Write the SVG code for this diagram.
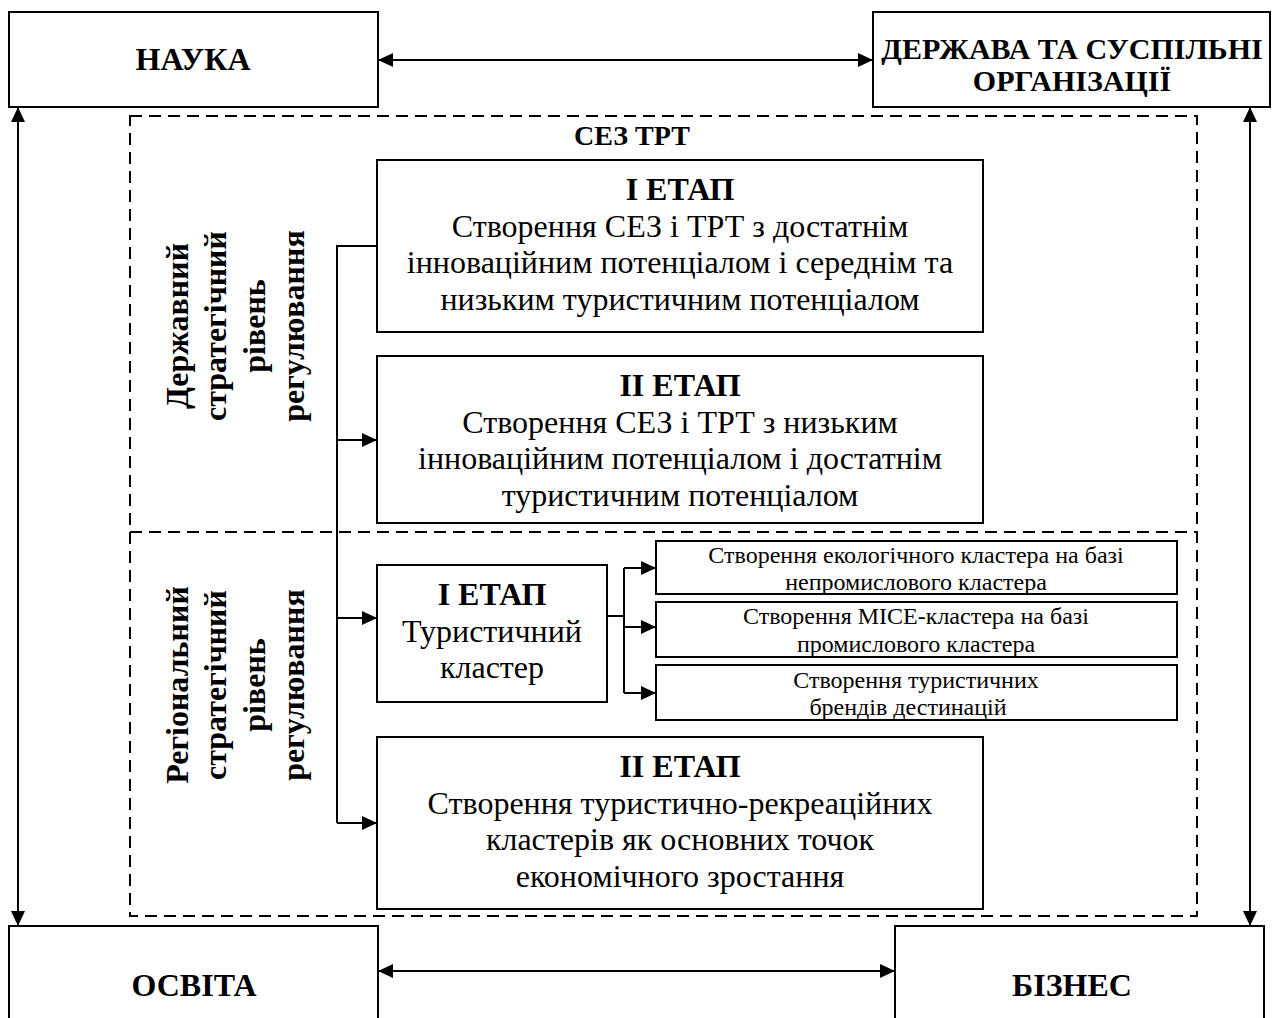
<svg xmlns="http://www.w3.org/2000/svg" width="1272" height="1018" viewBox="0 0 1272 1018">
<style>
.box{fill:#fff;stroke:#000;stroke-width:2}
.dash{fill:none;stroke:#000;stroke-width:2;stroke-dasharray:12 7}
.ln{fill:none;stroke:#000;stroke-width:2}
.ar{marker-end:url(#ah)}
.ar2{marker-start:url(#ah);marker-end:url(#ah)}
text{font-family:"Liberation Serif","Times New Roman",serif;fill:#000;text-anchor:middle}
.b{font-weight:bold}
.h32{font-size:32px}
.h30{font-size:30px}
.h28{font-size:28px}
.m{font-size:32px}
.s{font-size:24px}
</style>
<defs>
<marker id="ah" markerUnits="userSpaceOnUse" markerWidth="15" markerHeight="14" refX="15" refY="7" orient="auto-start-reverse">
<path d="M0,0 L15,7 L0,14 z" fill="#000"/>
</marker>
</defs>
<rect width="1272" height="1018" fill="#fff"/>

<g id="frame">
<rect class="dash" x="130" y="116" width="1067" height="800"/>
<line class="dash" x1="130" y1="532" x2="1197" y2="532"/>
<text class="b h28" x="632" y="145">СЕЗ ТРТ</text>
</g>

<g id="connectors">
<line class="ln ar2" x1="378" y1="60" x2="873" y2="60"/>
<line class="ln ar2" x1="378" y1="971" x2="895" y2="971"/>
<line class="ln ar2" x1="18" y1="107" x2="18" y2="926"/>
<line class="ln ar2" x1="1250" y1="107" x2="1250" y2="926"/>
<polyline class="ln" points="377,246 337,246 337,823"/>
<line class="ln ar" x1="337" y1="440" x2="377" y2="440"/>
<line class="ln ar" x1="337" y1="618" x2="377" y2="618"/>
<line class="ln ar" x1="337" y1="823" x2="377" y2="823"/>
<polyline class="ln" points="607,616 624,616"/>
<line class="ln" x1="624" y1="568" x2="624" y2="693"/>
<line class="ln ar" x1="624" y1="568" x2="656" y2="568"/>
<line class="ln ar" x1="624" y1="627" x2="656" y2="627"/>
<line class="ln ar" x1="624" y1="693" x2="656" y2="693"/>
</g>

<g id="nauka">
<rect class="box" x="9" y="12" width="369" height="95"/>
<text class="b h32" x="193" y="70">НАУКА</text>
</g>

<g id="derzhava">
<rect class="box" x="873" y="12" width="397" height="95"/>
<text class="b h30" x="1072" y="59">ДЕРЖАВА ТА СУСПІЛЬНІ</text>
<text class="b h30" x="1072" y="91">ОРГАНІЗАЦІЇ</text>
</g>

<g id="osvita">
<rect class="box" x="9" y="926" width="369" height="120"/>
<text class="b h32" x="194" y="996">ОСВІТА</text>
</g>

<g id="biznes">
<rect class="box" x="895" y="926" width="369" height="120"/>
<text class="b h32" x="1072" y="996">БІЗНЕС</text>
</g>

<g id="label-state" transform="translate(0,326) rotate(-90)">
<text class="b h32" x="0" y="188">Державний</text>
<text class="b h32" x="0" y="226">стратегічний</text>
<text class="b h32" x="0" y="265">рівень</text>
<text class="b h32" x="0" y="304">регулювання</text>
</g>

<g id="label-region" transform="translate(0,685) rotate(-90)">
<text class="b h32" x="0" y="188">Регіональний</text>
<text class="b h32" x="0" y="226">стратегічний</text>
<text class="b h32" x="0" y="265">рівень</text>
<text class="b h32" x="0" y="304">регулювання</text>
</g>

<g id="state-stage1">
<rect class="box" x="377" y="160" width="606" height="172"/>
<text class="b h32" x="680" y="200">І ЕТАП</text>
<text class="m" x="680" y="237">Створення СЕЗ і ТРТ з достатнім</text>
<text class="m" x="680" y="273">інноваційним потенціалом і середнім та</text>
<text class="m" x="680" y="310">низьким туристичним потенціалом</text>
</g>

<g id="state-stage2">
<rect class="box" x="377" y="356" width="606" height="167"/>
<text class="b h32" x="680" y="396">ІІ ЕТАП</text>
<text class="m" x="680" y="433">Створення СЕЗ і ТРТ з низьким</text>
<text class="m" x="680" y="469">інноваційним потенціалом і достатнім</text>
<text class="m" x="680" y="506">туристичним потенціалом</text>
</g>

<g id="region-stage1">
<rect class="box" x="377" y="565" width="230" height="137"/>
<text class="b h32" x="492" y="605">І ЕТАП</text>
<text class="m" x="492" y="642">Туристичний</text>
<text class="m" x="492" y="678">кластер</text>
</g>

<g id="eco-cluster">
<rect class="box" x="656" y="541" width="521" height="53"/>
<text class="s" x="916" y="563">Створення екологічного кластера на базі</text>
<text class="s" x="916" y="590">непромислового кластера</text>
</g>

<g id="mice-cluster">
<rect class="box" x="656" y="602" width="521" height="55"/>
<text class="s" x="916" y="624">Створення MICE-кластера на базі</text>
<text class="s" x="916" y="652">промислового кластера</text>
</g>

<g id="brands">
<rect class="box" x="656" y="665" width="521" height="55"/>
<text class="s" x="916" y="688">Створення туристичних</text>
<text class="s" x="908" y="715">брендів дестинацій</text>
</g>

<g id="region-stage2">
<rect class="box" x="377" y="737" width="606" height="172"/>
<text class="b h32" x="680" y="777">ІІ ЕТАП</text>
<text class="m" x="680" y="814">Створення туристично-рекреаційних</text>
<text class="m" x="680" y="850">кластерів як основних точок</text>
<text class="m" x="680" y="887">економічного зростання</text>
</g>
</svg>
